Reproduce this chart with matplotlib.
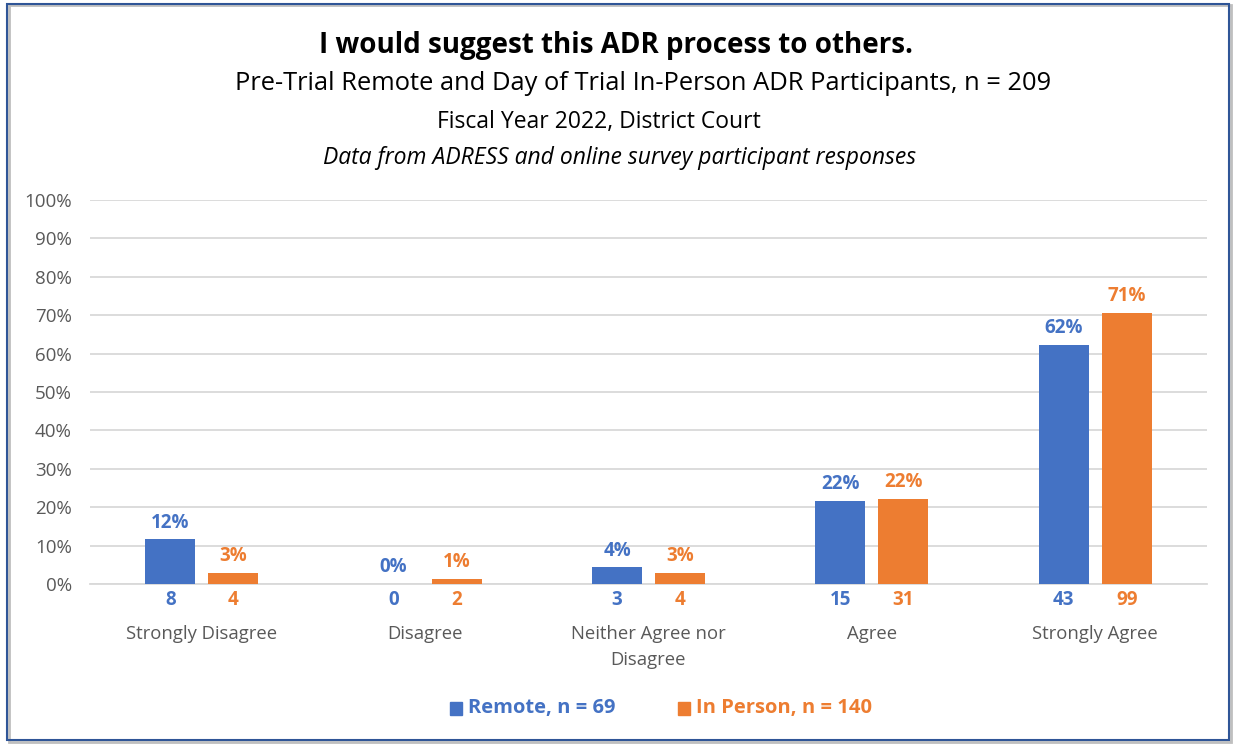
import matplotlib.pyplot as plt
import numpy as np
from matplotlib.patches import Rectangle

plt.rcParams['font.family'] = ['Open Sans', 'DejaVu Sans']

categories = ["Strongly Disagree", "Disagree", "Neither Agree nor\nDisagree", "Agree", "Strongly Agree"]
remote_pct = [11.6, 0.0, 4.3, 21.7, 62.3]
inperson_pct = [2.9, 1.4, 2.9, 22.1, 70.7]
remote_n = [8, 0, 3, 15, 43]
inperson_n = [4, 2, 4, 31, 99]

blue = "#4472C4"
orange = "#ED7D31"
grey = "#595959"

fig = plt.figure(figsize=(12.33, 7.44), dpi=100)
ax = fig.add_axes([90/1233, 1-584/744, (1207-90)/1233, (584-200)/744])

x = np.arange(len(categories))
w = 0.224
off = 0.141
ax.bar(x - off, remote_pct, w, color=blue, zorder=3)
ax.bar(x + off, inperson_pct, w, color=orange, zorder=3)

for i in range(len(categories)):
    ax.text(x[i] - off, remote_pct[i] + 1.8, f"{remote_pct[i]:.0f}%", ha='center', va='bottom',
            color=blue, fontsize=13.5, fontweight='bold')
    ax.text(x[i] + off, inperson_pct[i] + 1.8, f"{inperson_pct[i]:.0f}%", ha='center', va='bottom',
            color=orange, fontsize=13.5, fontweight='bold')
    ax.annotate(str(remote_n[i]), (x[i] - off, 0), xytext=(0, -16), textcoords='offset pixels',
                ha='center', va='center', color=blue, fontsize=13.5, fontweight='bold')
    ax.annotate(str(inperson_n[i]), (x[i] + off, 0), xytext=(0, -16), textcoords='offset pixels',
                ha='center', va='center', color=orange, fontsize=13.5, fontweight='bold')
    ax.annotate(categories[i], (x[i], 0), xytext=(0, -41), textcoords='offset pixels',
                ha='center', va='top', color=grey, fontsize=13.3, linespacing=1.6)

ax.set_xlim(-0.5, len(categories) - 0.5)
ax.set_ylim(0, 100)
ax.set_yticks(range(0, 101, 10))
ax.set_yticklabels([f"{v}%" for v in range(0, 101, 10)], color=grey, fontsize=13.5)
ax.set_xticks([])
ax.tick_params(axis='y', length=0, pad=13)
ax.grid(axis='y', color='#D9D9D9', linewidth=1.3, zorder=0)
for s in ['top', 'right', 'left']:
    ax.spines[s].set_visible(False)
ax.spines['bottom'].set_color('#D9D9D9')
ax.spines['bottom'].set_linewidth(1.3)

fig.text(616/1233, 1-45/744, "I would suggest this ADR process to others.", ha='center', va='center',
         fontsize=20, fontweight='bold', color='black')
fig.text(643/1233, 1-84/744, "Pre-Trial Remote and Day of Trial In-Person ADR Participants, n = 209",
         ha='center', va='center', fontsize=18.4, color='black')
fig.text(599/1233, 1-122/744, "Fiscal Year 2022, District Court", ha='center', va='center',
         fontsize=16.5, color='black')
fig.text(620/1233, 1-158/744, "Data from ADRESS and online survey participant responses", ha='center',
         va='center', fontsize=16.5, style='italic', color='black')

# legend
fig.patches.append(Rectangle((450/1233, 1-715/744), 12/1233, 13/744, transform=fig.transFigure,
                             color=blue))
fig.text(468/1233, 1-708/744, "Remote, n = 69", ha='left', va='center', fontsize=14.5,
         fontweight='bold', color=blue)
fig.patches.append(Rectangle((678/1233, 1-715/744), 12/1233, 13/744, transform=fig.transFigure,
                             color=orange))
fig.text(696/1233, 1-708/744, "In Person, n = 140", ha='left', va='center', fontsize=14.5,
         fontweight='bold', color=orange)

# frame
fig.patches.append(Rectangle((9/1233, 1-742/744), 1222/1233, 737/744, transform=fig.transFigure,
                             fill=False, edgecolor='#BFBFBF', linewidth=2))
fig.patches.append(Rectangle((7/1233, 1-740/744), 1222/1233, 736/744, transform=fig.transFigure,
                             fill=False, edgecolor='#2F5597', linewidth=1.5))

fig.savefig("out.png", dpi=100)
